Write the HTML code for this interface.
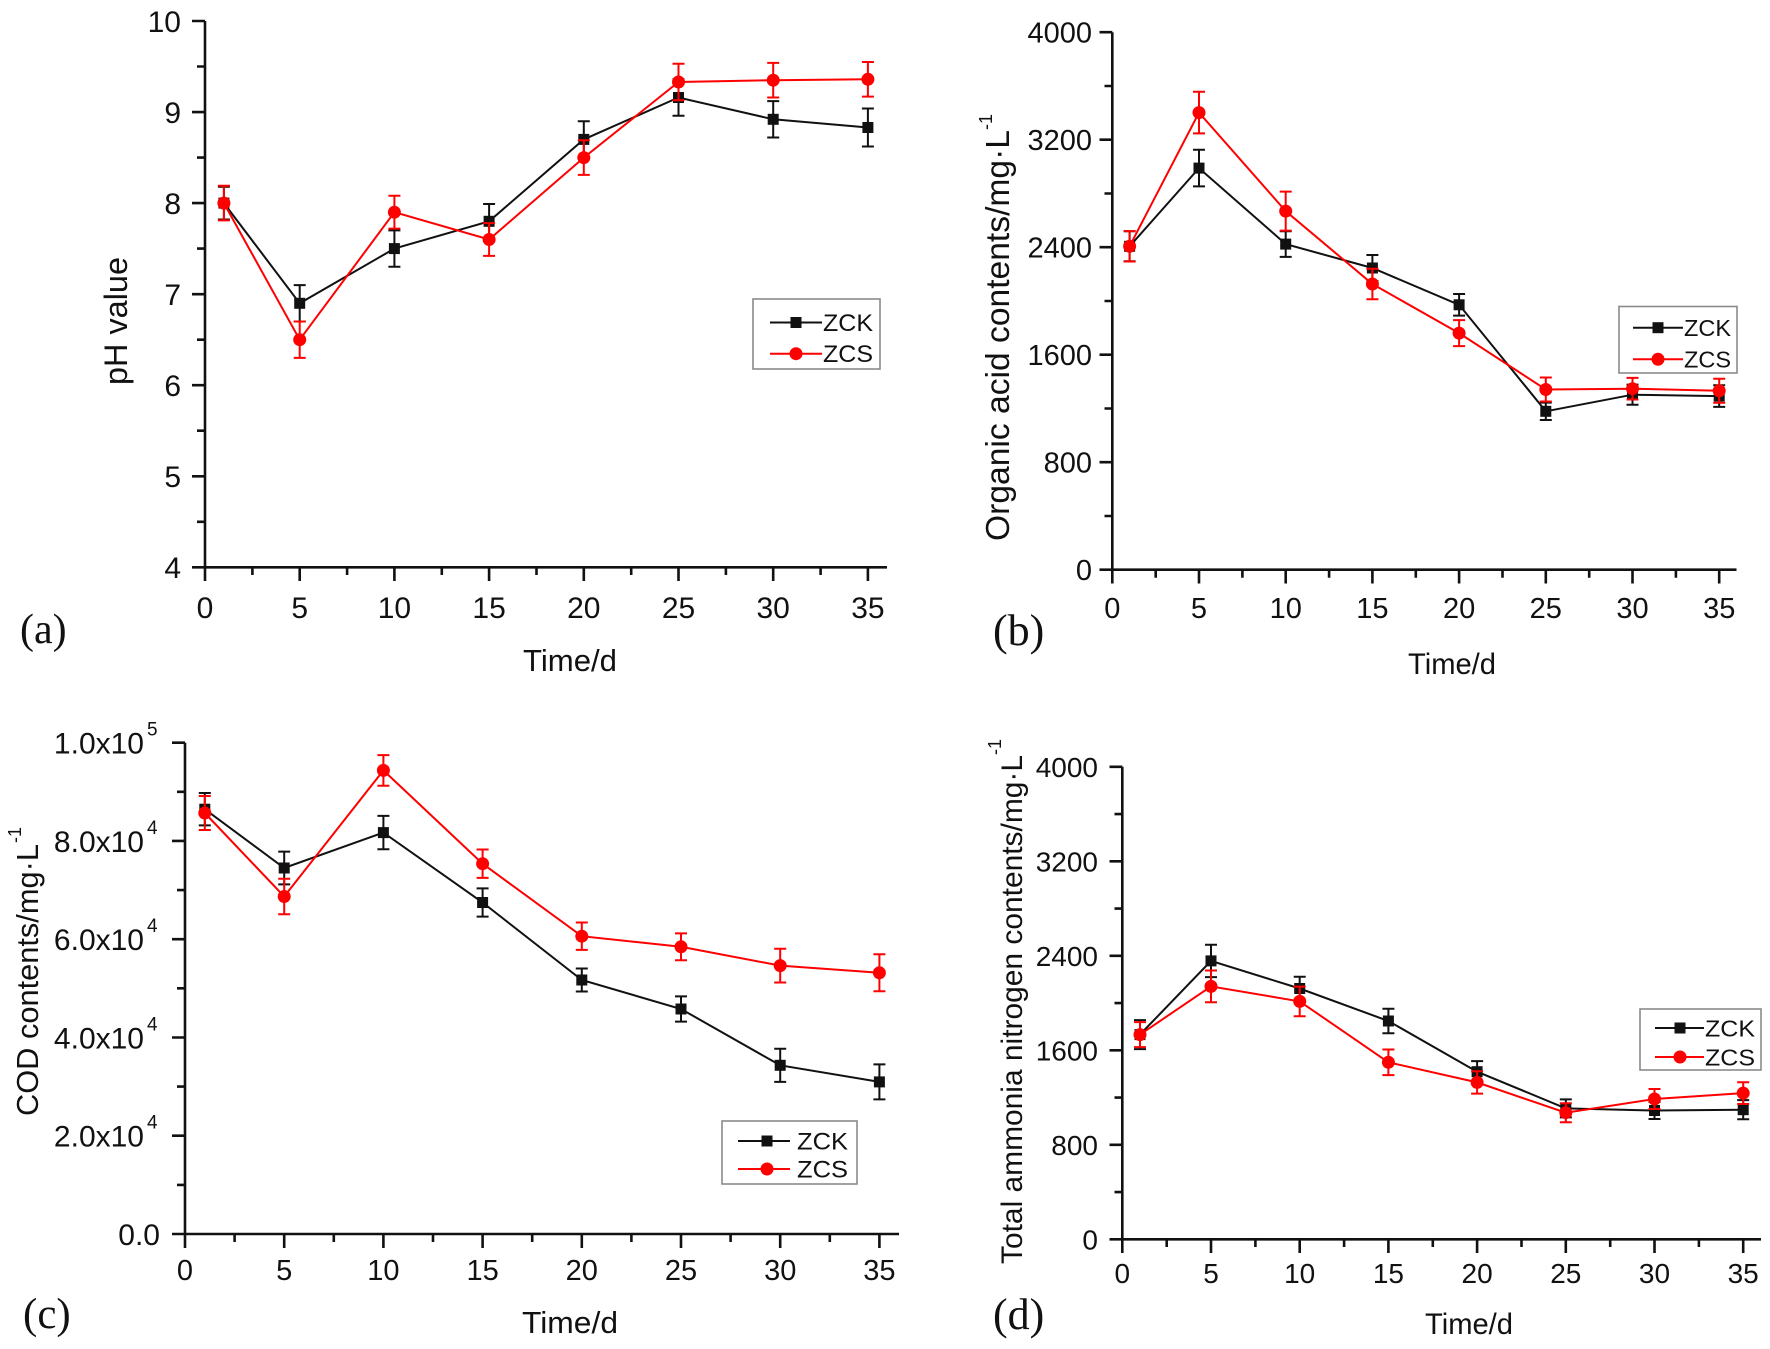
<!DOCTYPE html>
<html><head><meta charset="utf-8"><style>
html,body{margin:0;padding:0;background:#fff;}
svg{display:block;}
text{font-family:"Liberation Sans",Arial,sans-serif;fill:#111;}
.serif{font-family:"Liberation Serif","Times New Roman",serif;}
.ax{stroke:#111;stroke-width:2.6;fill:none;}
.k{stroke:#111;stroke-width:2;fill:none;}
.r{stroke:#f00;stroke-width:2;fill:none;}
.kf{fill:#111;}
.rf{fill:#f00;}
.leg{fill:#fff;stroke:#8a8a8a;stroke-width:1.6;}
</style></head><body>
<svg width="1770" height="1349" viewBox="0 0 1770 1349" xmlns="http://www.w3.org/2000/svg">
<rect width="1770" height="1349" fill="#fff"/>

<!-- ================= PANEL A ================= -->
<path class="ax" d="M205,21 V567.3 H887"/>
<path class="ax" d="M192,567.3H205M192,476.3H205M192,385.2H205M192,294.2H205M192,203.1H205M192,112.1H205M192,21H205
M197,521.8H205M197,430.7H205M197,339.7H205M197,248.6H205M197,157.6H205M197,66.5H205
M205,567.3V581M299.7,567.3V581M394.4,567.3V581M489.1,567.3V581M583.8,567.3V581M678.5,567.3V581M773.2,567.3V581M867.9,567.3V581
M252.4,567.3V575M347.1,567.3V575M441.8,567.3V575M536.5,567.3V575M631.2,567.3V575M725.9,567.3V575M820.6,567.3V575"/>
<g font-size="30" text-anchor="end">
<text x="181" y="578">4</text><text x="181" y="487">5</text><text x="181" y="396">6</text><text x="181" y="305">7</text><text x="181" y="214">8</text><text x="181" y="123">9</text><text x="181" y="32">10</text>
</g>
<g font-size="30" text-anchor="middle">
<text x="205" y="618">0</text><text x="299.7" y="618">5</text><text x="394.4" y="618">10</text><text x="489.1" y="618">15</text><text x="583.8" y="618">20</text><text x="678.5" y="618">25</text><text x="773.2" y="618">30</text><text x="867.9" y="618">35</text>
</g>
<text x="570" y="671" font-size="31" text-anchor="middle" textLength="94" lengthAdjust="spacingAndGlyphs">Time/d</text>
<text transform="translate(127,321) rotate(-90)" font-size="32" text-anchor="middle" textLength="128" lengthAdjust="spacingAndGlyphs">pH value</text>
<text class="serif" x="20" y="643" font-size="42">(a)</text>
<!-- ZCK -->
<path class="k" d="M223.9,203.1L299.7,303.3L394.4,248.6L489.1,221.3L583.8,139.4L678.5,97.5L773.2,119.3L867.9,127.5"/>
<path class="k" d="M223.9,186.7V219.5M217.9,186.7H229.9M217.9,219.5H229.9
M299.7,285.1V321.5M293.7,285.1H305.7M293.7,321.5H305.7
M394.4,230.4V266.8M388.4,230.4H400.4M388.4,266.8H400.4
M489.1,204V238.6M483.1,204H495.1M483.1,238.6H495.1
M583.8,121.2V157.6M577.8,121.2H589.8M577.8,157.6H589.8
M678.5,79.3V115.7M672.5,79.3H684.5M672.5,115.7H684.5
M773.2,101.1V137.5M767.2,101.1H779.2M767.2,137.5H779.2
M867.9,108.5V146.5M861.9,108.5H873.9M861.9,146.5H873.9"/>
<g class="kf">
<rect x="218.4" y="197.6" width="11" height="11"/><rect x="294.2" y="297.8" width="11" height="11"/><rect x="388.9" y="243.1" width="11" height="11"/><rect x="483.6" y="215.8" width="11" height="11"/><rect x="578.3" y="133.9" width="11" height="11"/><rect x="673" y="92" width="11" height="11"/><rect x="767.7" y="113.8" width="11" height="11"/><rect x="862.4" y="122" width="11" height="11"/>
</g>
<!-- ZCS -->
<path class="r" d="M223.9,203.1L299.7,339.7L394.4,212.2L489.1,239.5L583.8,157.6L678.5,82L773.2,80.2L867.9,79.3"/>
<path class="r" d="M223.9,185.8V220.4M217.9,185.8H229.9M217.9,220.4H229.9
M299.7,321.5V357.9M293.7,321.5H305.7M293.7,357.9H305.7
M394.4,195.8V228.6M388.4,195.8H400.4M388.4,228.6H400.4
M489.1,223.1V255.9M483.1,223.1H495.1M483.1,255.9H495.1
M583.8,140.3V174.9M577.8,140.3H589.8M577.8,174.9H589.8
M678.5,63.8V100.2M672.5,63.8H684.5M672.5,100.2H684.5
M773.2,62.9V97.5M767.2,62.9H779.2M767.2,97.5H779.2
M867.9,62V96.6M861.9,62H873.9M861.9,96.6H873.9"/>
<g class="rf">
<circle cx="223.9" cy="203.1" r="6.5"/><circle cx="299.7" cy="339.7" r="6.5"/><circle cx="394.4" cy="212.2" r="6.5"/><circle cx="489.1" cy="239.5" r="6.5"/><circle cx="583.8" cy="157.6" r="6.5"/><circle cx="678.5" cy="82" r="6.5"/><circle cx="773.2" cy="80.2" r="6.5"/><circle cx="867.9" cy="79.3" r="6.5"/>
</g>
<!-- legend a -->
<rect class="leg" x="753" y="299" width="127" height="70"/>
<path class="k" d="M770,322.5H822"/><rect class="kf" x="790.5" y="317" width="11" height="11"/>
<path class="r" d="M770,353.7H822"/><circle class="rf" cx="796" cy="353.7" r="6.5"/>
<text x="823" y="331" font-size="24" textLength="50" lengthAdjust="spacingAndGlyphs">ZCK</text>
<text x="823" y="362" font-size="24" textLength="50" lengthAdjust="spacingAndGlyphs">ZCS</text>

<!-- ================= PANEL B ================= -->
<path class="ax" d="M1112.3,32.2 V569.7 H1736.5"/>
<path class="ax" d="M1099.5,569.7H1112.3M1099.5,462.2H1112.3M1099.5,354.7H1112.3M1099.5,247.2H1112.3M1099.5,139.7H1112.3M1099.5,32.2H1112.3
M1104.5,516H1112.3M1104.5,408.5H1112.3M1104.5,301H1112.3M1104.5,193.5H1112.3M1104.5,86H1112.3
M1112.3,569.7V583.5M1199,569.7V583.5M1285.7,569.7V583.5M1372.4,569.7V583.5M1459.1,569.7V583.5M1545.8,569.7V583.5M1632.5,569.7V583.5M1719.2,569.7V583.5
M1155.7,569.7V577.7M1242.4,569.7V577.7M1329.1,569.7V577.7M1415.8,569.7V577.7M1502.5,569.7V577.7M1589.2,569.7V577.7M1675.9,569.7V577.7"/>
<g font-size="29" text-anchor="end">
<text x="1092" y="580">0</text><text x="1092" y="472.5">800</text><text x="1092" y="365">1600</text><text x="1092" y="257.5">2400</text><text x="1092" y="150">3200</text><text x="1092" y="42.5">4000</text>
</g>
<g font-size="29" text-anchor="middle">
<text x="1112.3" y="618">0</text><text x="1199" y="618">5</text><text x="1285.7" y="618">10</text><text x="1372.4" y="618">15</text><text x="1459.1" y="618">20</text><text x="1545.8" y="618">25</text><text x="1632.5" y="618">30</text><text x="1719.2" y="618">35</text>
</g>
<text x="1452" y="674" font-size="30" text-anchor="middle" textLength="88" lengthAdjust="spacingAndGlyphs">Time/d</text>
<text transform="translate(1009,541) rotate(-90)" font-size="33" textLength="411" lengthAdjust="spacingAndGlyphs">Organic acid contents/mg·L</text>
<text transform="translate(992,130) rotate(-90)" font-size="18">-1</text>
<text class="serif" x="993" y="645" font-size="44">(b)</text>
<!-- ZCK -->
<path class="k" d="M1129.6,246.3L1199,168.1L1285.7,244.1L1372.4,268L1459.1,304.8L1545.8,411.3L1632.5,394.7L1719.2,396.1"/>
<path class="k" d="M1129.6,231.3V261.3M1123.6,231.3H1135.6M1123.6,261.3H1135.6
M1199,149.8V186.4M1193,149.8H1205M1193,186.4H1205
M1285.7,231.3V256.9M1279.7,231.3H1291.7M1279.7,256.9H1291.7
M1372.4,255V281M1366.4,255H1378.4M1366.4,281H1378.4
M1459.1,294V315.6M1453.1,294H1465.1M1453.1,315.6H1465.1
M1545.8,402.6V420M1539.8,402.6H1551.8M1539.8,420H1551.8
M1632.5,384.6V404.8M1626.5,384.6H1638.5M1626.5,404.8H1638.5
M1719.2,385.3V406.9M1713.2,385.3H1725.2M1713.2,406.9H1725.2"/>
<g class="kf">
<rect x="1124.1" y="240.8" width="11" height="11"/><rect x="1193.5" y="162.6" width="11" height="11"/><rect x="1280.2" y="238.6" width="11" height="11"/><rect x="1366.9" y="262.5" width="11" height="11"/><rect x="1453.6" y="299.3" width="11" height="11"/><rect x="1540.3" y="405.8" width="11" height="11"/><rect x="1627" y="389.2" width="11" height="11"/><rect x="1713.7" y="390.6" width="11" height="11"/>
</g>
<!-- ZCS -->
<path class="r" d="M1129.6,246.3L1199,112.6L1285.7,211.1L1372.4,284L1459.1,333.1L1545.8,389.5L1632.5,388.7L1719.2,390.8"/>
<path class="r" d="M1129.6,231.1V261.5M1123.6,231.1H1135.6M1123.6,261.5H1135.6
M1199,91.8V133.4M1193,91.8H1205M1193,133.4H1205
M1285.7,191.6V230.6M1279.7,191.6H1291.7M1279.7,230.6H1291.7
M1372.4,268.8V299.2M1366.4,268.8H1378.4M1366.4,299.2H1378.4
M1459.1,320.1V346.1M1453.1,320.1H1465.1M1453.1,346.1H1465.1
M1545.8,377.5V401.5M1539.8,377.5H1551.8M1539.8,401.5H1551.8
M1632.5,377.9V399.5M1626.5,377.9H1638.5M1626.5,399.5H1638.5
M1719.2,378.8V402.8M1713.2,378.8H1725.2M1713.2,402.8H1725.2"/>
<g class="rf">
<circle cx="1129.6" cy="246.3" r="6.5"/><circle cx="1199" cy="112.6" r="6.5"/><circle cx="1285.7" cy="211.1" r="6.5"/><circle cx="1372.4" cy="284" r="6.5"/><circle cx="1459.1" cy="333.1" r="6.5"/><circle cx="1545.8" cy="389.5" r="6.5"/><circle cx="1632.5" cy="388.7" r="6.5"/><circle cx="1719.2" cy="390.8" r="6.5"/>
</g>
<!-- legend b -->
<rect class="leg" x="1619" y="306.5" width="118" height="66.5"/>
<path class="k" d="M1633,327.7H1683"/><rect class="kf" x="1652.5" y="322.2" width="11" height="11"/>
<path class="r" d="M1633,359.3H1683"/><circle class="rf" cx="1658" cy="359.3" r="6.5"/>
<text x="1684" y="336" font-size="23" textLength="47" lengthAdjust="spacingAndGlyphs">ZCK</text>
<text x="1684" y="367.5" font-size="23" textLength="47" lengthAdjust="spacingAndGlyphs">ZCS</text>

<!-- ================= PANEL C ================= -->
<path class="ax" d="M185,742.7 V1234 H899"/>
<path class="ax" d="M172,1234H185M172,1135.7H185M172,1037.5H185M172,939.2H185M172,840.9H185M172,742.7H185
M177,1184.9H185M177,1086.6H185M177,988.3H185M177,890.1H185M177,791.8H185
M185,1234V1248M284.2,1234V1248M383.4,1234V1248M482.6,1234V1248M581.8,1234V1248M681,1234V1248M780.2,1234V1248M879.4,1234V1248
M234.6,1234V1242M333.8,1234V1242M433,1234V1242M532.2,1234V1242M631.4,1234V1242M730.6,1234V1242M829.8,1234V1242"/>
<g font-size="30" text-anchor="end">
<text x="160" y="1245">0.0</text>
<text x="144" y="1146.7">2.0x10</text><text x="144" y="1048.5">4.0x10</text><text x="144" y="950.2">6.0x10</text><text x="144" y="851.9">8.0x10</text><text x="144" y="753.7">1.0x10</text>
</g>
<g font-size="19">
<text x="147" y="1128.7">4</text><text x="147" y="1030.5">4</text><text x="147" y="932.2">4</text><text x="147" y="833.9">4</text><text x="147" y="735.7">5</text>
</g>
<g font-size="29" text-anchor="middle">
<text x="185" y="1280">0</text><text x="284.2" y="1280">5</text><text x="383.4" y="1280">10</text><text x="482.6" y="1280">15</text><text x="581.8" y="1280">20</text><text x="681" y="1280">25</text><text x="780.2" y="1280">30</text><text x="879.4" y="1280">35</text>
</g>
<text x="570" y="1333" font-size="31" text-anchor="middle" textLength="96" lengthAdjust="spacingAndGlyphs">Time/d</text>
<text transform="translate(38,1116) rotate(-90)" font-size="31" textLength="272" lengthAdjust="spacingAndGlyphs">COD contents/mg·L</text>
<text transform="translate(21,843) rotate(-90)" font-size="18">-1</text>
<text class="serif" x="23" y="1328" font-size="43">(c)</text>
<!-- ZCK -->
<path class="k" d="M204.8,809.2L284.2,868L383.4,832.6L482.6,902.5L581.8,980L681,1009L780.2,1065.3L879.4,1081.9"/>
<path class="k" d="M204.8,793V825.4M198.8,793H210.8M198.8,825.4H210.8
M284.2,851.6V884.4M278.2,851.6H290.2M278.2,884.4H290.2
M383.4,815.9V849.3M377.4,815.9H389.4M377.4,849.3H389.4
M482.6,888.4V916.6M476.6,888.4H488.6M476.6,916.6H488.6
M581.8,968.5V991.5M575.8,968.5H587.8M575.8,991.5H587.8
M681,996.4V1021.6M675,996.4H687M675,1021.6H687
M780.2,1048.7V1081.9M774.2,1048.7H786.2M774.2,1081.9H786.2
M879.4,1064.4V1099.4M873.4,1064.4H885.4M873.4,1099.4H885.4"/>
<g class="kf">
<rect x="199.3" y="803.7" width="11" height="11"/><rect x="278.7" y="862.5" width="11" height="11"/><rect x="377.9" y="827.1" width="11" height="11"/><rect x="477.1" y="897" width="11" height="11"/><rect x="576.3" y="974.5" width="11" height="11"/><rect x="675.5" y="1003.5" width="11" height="11"/><rect x="774.7" y="1059.8" width="11" height="11"/><rect x="873.9" y="1076.4" width="11" height="11"/>
</g>
<!-- ZCS -->
<path class="r" d="M204.8,813L284.2,896.5L383.4,770.4L482.6,863.7L581.8,936.2L681,946.8L780.2,965.6L879.4,972.8"/>
<path class="r" d="M204.8,796V830M198.8,796H210.8M198.8,830H210.8
M284.2,878.8V914.2M278.2,878.8H290.2M278.2,914.2H290.2
M383.4,755.1V785.7M377.4,755.1H389.4M377.4,785.7H389.4
M482.6,849.5V877.9M476.6,849.5H488.6M476.6,877.9H488.6
M581.8,922.5V949.9M575.8,922.5H587.8M575.8,949.9H587.8
M681,933.4V960.2M675,933.4H687M675,960.2H687
M780.2,948.7V982.5M774.2,948.7H786.2M774.2,982.5H786.2
M879.4,954.3V991.3M873.4,954.3H885.4M873.4,991.3H885.4"/>
<g class="rf">
<circle cx="204.8" cy="813" r="6.5"/><circle cx="284.2" cy="896.5" r="6.5"/><circle cx="383.4" cy="770.4" r="6.5"/><circle cx="482.6" cy="863.7" r="6.5"/><circle cx="581.8" cy="936.2" r="6.5"/><circle cx="681" cy="946.8" r="6.5"/><circle cx="780.2" cy="965.6" r="6.5"/><circle cx="879.4" cy="972.8" r="6.5"/>
</g>
<!-- legend c -->
<rect class="leg" x="722" y="1121" width="135" height="63"/>
<path class="k" d="M738,1141H790"/><rect class="kf" x="761.5" y="1135.5" width="11" height="11"/>
<path class="r" d="M738,1169H790"/><circle class="rf" cx="767" cy="1169" r="6.5"/>
<text x="797" y="1149.5" font-size="24" textLength="51" lengthAdjust="spacingAndGlyphs">ZCK</text>
<text x="797" y="1177.5" font-size="24" textLength="51" lengthAdjust="spacingAndGlyphs">ZCS</text>

<!-- ================= PANEL D ================= -->
<path class="ax" d="M1122.3,766.8 V1239.3 H1761"/>
<path class="ax" d="M1109.5,1239.3H1122.3M1109.5,1144.8H1122.3M1109.5,1050.3H1122.3M1109.5,955.8H1122.3M1109.5,861.3H1122.3M1109.5,766.8H1122.3
M1114.5,1192.1H1122.3M1114.5,1097.6H1122.3M1114.5,1003.1H1122.3M1114.5,908.6H1122.3M1114.5,814.1H1122.3
M1122.3,1239.3V1253M1211,1239.3V1253M1299.7,1239.3V1253M1388.4,1239.3V1253M1477.1,1239.3V1253M1565.8,1239.3V1253M1654.5,1239.3V1253M1743.2,1239.3V1253
M1166.7,1239.3V1247M1255.4,1239.3V1247M1344.1,1239.3V1247M1432.8,1239.3V1247M1521.5,1239.3V1247M1610.2,1239.3V1247M1698.9,1239.3V1247"/>
<g font-size="28" text-anchor="end">
<text x="1098" y="1249.3">0</text><text x="1098" y="1154.8">800</text><text x="1098" y="1060.3">1600</text><text x="1098" y="965.8">2400</text><text x="1098" y="871.3">3200</text><text x="1098" y="776.8">4000</text>
</g>
<g font-size="28" text-anchor="middle">
<text x="1122.3" y="1283">0</text><text x="1211" y="1283">5</text><text x="1299.7" y="1283">10</text><text x="1388.4" y="1283">15</text><text x="1477.1" y="1283">20</text><text x="1565.8" y="1283">25</text><text x="1654.5" y="1283">30</text><text x="1743.2" y="1283">35</text>
</g>
<text x="1469" y="1334" font-size="30" text-anchor="middle" textLength="88" lengthAdjust="spacingAndGlyphs">Time/d</text>
<text transform="translate(1022,1264) rotate(-90)" font-size="30" textLength="509" lengthAdjust="spacingAndGlyphs">Total ammonia nitrogen contents/mg·L</text>
<text transform="translate(1001,755) rotate(-90)" font-size="18">-1</text>
<text class="serif" x="993" y="1329" font-size="44">(d)</text>
<!-- ZCK -->
<path class="k" d="M1140,1034.6L1211,960.9L1299.7,988.5L1388.4,1021L1477.1,1071.7L1565.8,1108.4L1654.5,1110.5L1743.2,1109.7"/>
<path class="k" d="M1140,1020.1V1049.1M1134,1020.1H1146M1134,1049.1H1146
M1211,944.7V977.1M1205,944.7H1217M1205,977.1H1217
M1299.7,976.7V1000.3M1293.7,976.7H1305.7M1293.7,1000.3H1305.7
M1388.4,1008.8V1033.2M1382.4,1008.8H1394.4M1382.4,1033.2H1394.4
M1477.1,1061.1V1082.3M1471.1,1061.1H1483.1M1471.1,1082.3H1483.1
M1565.8,1099.4V1117.4M1559.8,1099.4H1571.8M1559.8,1117.4H1571.8
M1654.5,1102V1119M1648.5,1102H1660.5M1648.5,1119H1660.5
M1743.2,1100.1V1119.3M1737.2,1100.1H1749.2M1737.2,1119.3H1749.2"/>
<g class="kf">
<rect x="1134.5" y="1029.1" width="11" height="11"/><rect x="1205.5" y="955.4" width="11" height="11"/><rect x="1294.2" y="983" width="11" height="11"/><rect x="1382.9" y="1015.5" width="11" height="11"/><rect x="1471.6" y="1066.2" width="11" height="11"/><rect x="1560.3" y="1102.9" width="11" height="11"/><rect x="1649" y="1105" width="11" height="11"/><rect x="1737.7" y="1104.2" width="11" height="11"/>
</g>
<!-- ZCS -->
<path class="r" d="M1140,1034.6L1211,986.4L1299.7,1001.4L1388.4,1062.3L1477.1,1082.4L1565.8,1112.7L1654.5,1099L1743.2,1093.1"/>
<path class="r" d="M1140,1022.1V1047.1M1134,1022.1H1146M1134,1047.1H1146
M1211,970.5V1002.3M1205,970.5H1217M1205,1002.3H1217
M1299.7,986.6V1016.2M1293.7,986.6H1305.7M1293.7,1016.2H1305.7
M1388.4,1049.5V1075.1M1382.4,1049.5H1394.4M1382.4,1075.1H1394.4
M1477.1,1071.2V1093.6M1471.1,1071.2H1483.1M1471.1,1093.6H1483.1
M1565.8,1103.2V1122.2M1559.8,1103.2H1571.8M1559.8,1122.2H1571.8
M1654.5,1089V1109M1648.5,1089H1660.5M1648.5,1109H1660.5
M1743.2,1082.2V1104M1737.2,1082.2H1749.2M1737.2,1104H1749.2"/>
<g class="rf">
<circle cx="1140" cy="1034.6" r="6.5"/><circle cx="1211" cy="986.4" r="6.5"/><circle cx="1299.7" cy="1001.4" r="6.5"/><circle cx="1388.4" cy="1062.3" r="6.5"/><circle cx="1477.1" cy="1082.4" r="6.5"/><circle cx="1565.8" cy="1112.7" r="6.5"/><circle cx="1654.5" cy="1099" r="6.5"/><circle cx="1743.2" cy="1093.1" r="6.5"/>
</g>
<!-- legend d -->
<rect class="leg" x="1640" y="1009" width="121" height="61"/>
<path class="k" d="M1655,1028H1704"/><rect class="kf" x="1674.5" y="1022.5" width="11" height="11"/>
<path class="r" d="M1655,1057H1704"/><circle class="rf" cx="1680" cy="1057" r="6.5"/>
<text x="1705" y="1036.5" font-size="23" textLength="50" lengthAdjust="spacingAndGlyphs">ZCK</text>
<text x="1705" y="1065.5" font-size="23" textLength="50" lengthAdjust="spacingAndGlyphs">ZCS</text>
</svg>
</body></html>
